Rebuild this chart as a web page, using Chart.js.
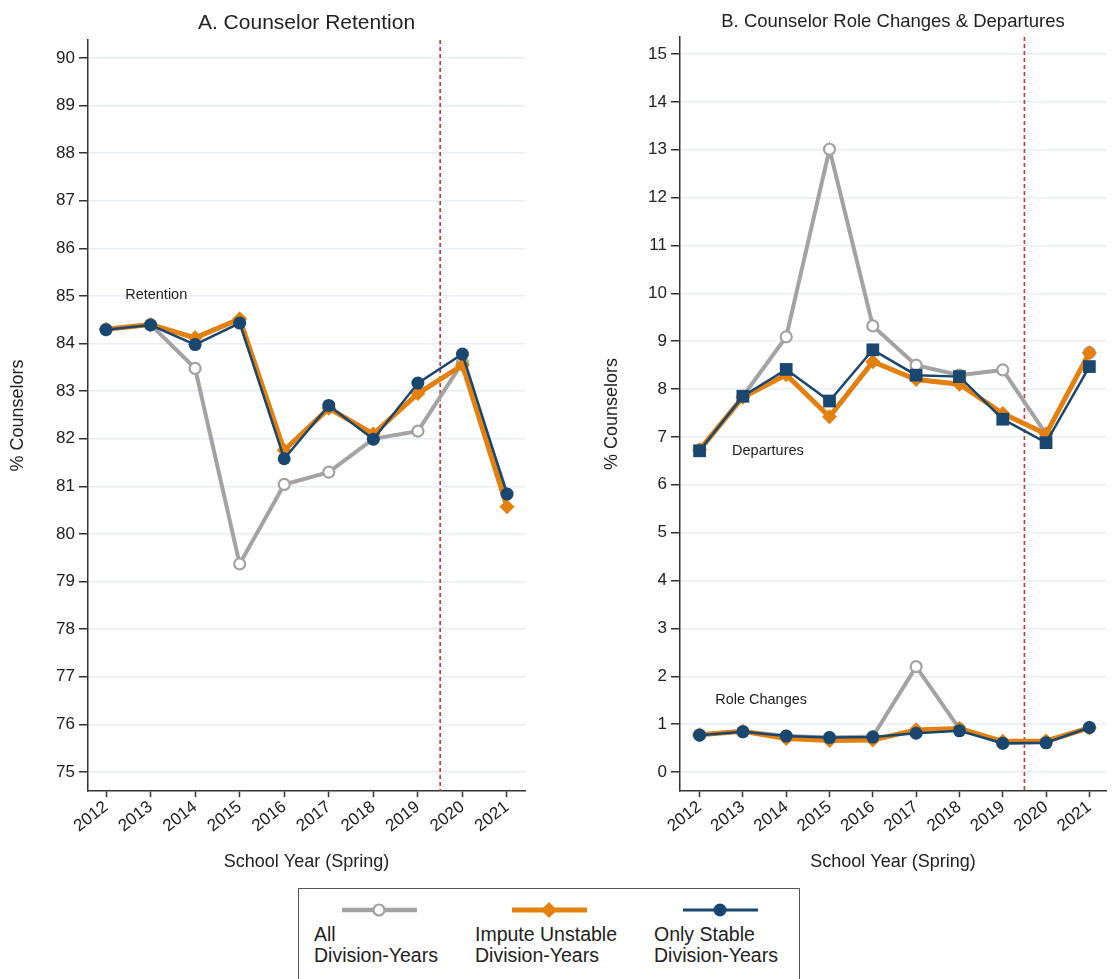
<!DOCTYPE html>
<html>
<head>
<meta charset="utf-8">
<script src="https://cdn.jsdelivr.net/npm/chart.js@4.4.1/dist/chart.umd.min.js"></script>
<style>
  html, body { margin: 0; padding: 0; background: #fff; }
  body { width: 1115px; height: 979px; position: relative; overflow: hidden;
         font-family: "Liberation Sans", Arial, sans-serif; }
  #panelA { position: absolute; left: 0; top: 0; }
  #panelB { position: absolute; left: 560px; top: 0; }
  .legend { position: absolute; left: 298px; top: 888px; width: 502px; height: 120px;
            border: 1.5px solid #555; box-sizing: border-box; }
  .legend svg { position: absolute; top: 11px; }
  .legend .lbl { position: absolute; top: 35px; font-size: 19.5px; line-height: 21px;
                 color: #222; white-space: nowrap; }
</style>
</head>
<body>
<canvas id="panelA" width="560" height="880"></canvas>
<canvas id="panelB" width="555" height="880"></canvas>

<div class="legend">
  <svg style="left:43px" width="75" height="20">
    <line x1="0" y1="10" x2="75" y2="10" stroke="#a3a3a3" stroke-width="4.5"/>
    <circle cx="37" cy="10" r="5.5" fill="#fff" stroke="#a3a3a3" stroke-width="2.2"/>
  </svg>
  <div class="lbl" style="left:15px">All<br>Division-Years</div>

  <svg style="left:213px" width="75" height="20">
    <line x1="0" y1="10" x2="75" y2="10" stroke="#e3800e" stroke-width="5"/>
    <polygon points="29,10 37,2 45,10 37,18" fill="#e3800e"/>
  </svg>
  <div class="lbl" style="left:176px">Impute Unstable<br>Division-Years</div>

  <svg style="left:384px" width="75" height="20">
    <line x1="0" y1="10" x2="75" y2="10" stroke="#1a476f" stroke-width="3"/>
    <circle cx="37" cy="10" r="6.5" fill="#1a476f"/>
  </svg>
  <div class="lbl" style="left:355px">Only Stable<br>Division-Years</div>
</div>

<script>
// school years (spring)
const years = [2012, 2013, 2014, 2015, 2016, 2017, 2018, 2019, 2020, 2021];
const cutoffYear = 2019.5;

// panel A: retention (%)
const retainAll    = [84.30, 84.40, 83.48, 79.37, 81.04, 81.30, 82.00, 82.16, 83.60, 80.84];
const retainImpute = [84.30, 84.40, 84.12, 84.52, 81.76, 82.64, 82.10, 82.95, 83.55, 80.57];
const retainStable = [84.29, 84.39, 83.98, 84.43, 81.58, 82.70, 81.99, 83.17, 83.78, 80.84];

// panel B: departures and role changes (%)
const departAll    = [6.73, 7.85, 9.09, 13.01, 9.32, 8.50, 8.29, 8.40, 7.06, 8.76];
const departImpute = [6.73, 7.83, 8.30, 7.42, 8.57, 8.20, 8.10, 7.49, 7.06, 8.76];
const departStable = [6.71, 7.85, 8.41, 7.75, 8.82, 8.29, 8.26, 7.37, 6.88, 8.47];
const roleAll      = [0.78, 0.85, 0.75, 0.72, 0.74, 2.20, 0.90, 0.60, 0.62, 0.93];
const roleImpute   = [0.78, 0.85, 0.70, 0.66, 0.67, 0.88, 0.91, 0.64, 0.65, 0.92];
const roleStable   = [0.77, 0.84, 0.75, 0.72, 0.73, 0.81, 0.86, 0.60, 0.61, 0.93];

const ticksA = [75, 76, 77, 78, 79, 80, 81, 82, 83, 84, 85, 86, 87, 88, 89, 90];
const ticksB = [0, 1, 2, 3, 4, 5, 6, 7, 8, 9, 10, 11, 12, 13, 14, 15];

const GRAY = '#a3a3a3';
const ORANGE = '#e3800e';
const NAVY = '#1a476f';
const INK = '#222';
const FONT = '"Liberation Sans", Arial, sans-serif';

Chart.defaults.font.family = FONT;
Chart.defaults.color = INK;

const pts = vals => vals.map((v, i) => ({ x: years[i], y: v }));

function allSeries(vals) {
    return {
        data: pts(vals), order: 3,
        borderColor: GRAY, borderWidth: 4,
        pointStyle: 'circle', pointRadius: 5.5, pointBorderWidth: 2.2,
        pointBackgroundColor: '#fff', pointBorderColor: GRAY
    };
}
function imputeSeries(vals) {
    return {
        data: pts(vals), order: 2,
        borderColor: ORANGE, borderWidth: 5,
        pointStyle: 'rectRot', pointRadius: 7.5, pointBorderWidth: 0,
        pointBackgroundColor: ORANGE, pointBorderColor: ORANGE
    };
}
function stableSeries(vals, style) {
    return {
        data: pts(vals), order: 1,
        borderColor: NAVY, borderWidth: 2.5,
        pointStyle: style, pointRadius: style === 'rect' ? 9 : 6.5, pointBorderWidth: 0,
        pointBackgroundColor: NAVY, pointBorderColor: NAVY
    };
}

// panel title over the plot area, dashed cutoff line, text notes
const panelExtras = {
    id: 'panelExtras',
    beforeDatasetsDraw(chart) {
        const { ctx, chartArea, scales } = chart;
        const x = scales.x.getPixelForValue(cutoffYear);
        ctx.save();
        ctx.strokeStyle = '#c0393b';
        ctx.lineWidth = 1.6;
        ctx.setLineDash([4, 3]);
        ctx.beginPath();
        ctx.moveTo(x, chartArea.top);
        ctx.lineTo(x, chartArea.bottom);
        ctx.stroke();
        ctx.restore();
    },
    afterDraw(chart) {
        const opts = chart.options.plugins.panelExtras;
        const { ctx, chartArea, scales } = chart;
        ctx.save();
        ctx.fillStyle = INK;
        ctx.textBaseline = 'middle';

        ctx.font = opts.titleSize + 'px ' + FONT;
        ctx.textAlign = 'center';
        ctx.fillText(opts.title, (chartArea.left + chartArea.right) / 2, opts.titleY);

        ctx.font = '14.5px ' + FONT;
        ctx.textAlign = 'left';
        (opts.notes || []).forEach(n => {
            ctx.fillText(n.text, scales.x.getPixelForValue(n.x), scales.y.getPixelForValue(n.y));
        });
        ctx.restore();
    }
};

function makePanel(id, cfg) {
    return new Chart(document.getElementById(id), {
        type: 'line',
        data: { datasets: cfg.datasets },
        plugins: [panelExtras],
        options: {
            responsive: false,
            animation: false,
            layout: { padding: cfg.padding },
            plugins: {
                legend: { display: false },
                tooltip: { enabled: false },
                title: { display: false },
                panelExtras: {
                    title: cfg.title, titleSize: cfg.titleSize, titleY: cfg.titleY,
                    notes: cfg.notes
                }
            },
            scales: {
                x: {
                    type: 'linear', min: cfg.xMin, max: cfg.xMax,
                    afterBuildTicks: s => { s.ticks = years.map(v => ({ value: v })); },
                    afterFit: s => { s.height = 89; s.paddingLeft = 0; s.paddingRight = 0; },
                    ticks: {
                        font: { size: 17 }, color: INK, padding: 0,
                        minRotation: 38, maxRotation: 38,
                        callback: v => String(v)
                    },
                    grid: { drawOnChartArea: false, tickLength: 6, tickColor: '#333', tickWidth: 1.5 },
                    border: { color: '#333', width: 1.5 },
                    title: {
                        display: true, text: 'School Year (Spring)', color: INK,
                        font: { size: 18 }, padding: { top: 0, bottom: 7 }
                    }
                },
                y: {
                    min: cfg.yMin, max: cfg.yMax,
                    afterBuildTicks: s => { s.ticks = cfg.yTicks.map(v => ({ value: v })); },
                    afterFit: s => { s.width = cfg.yWidth; s.paddingTop = 0; s.paddingBottom = 0; },
                    ticks: { font: { size: 17 }, color: INK, padding: 4 },
                    grid: { color: '#e8eef4', lineWidth: 1.5, tickLength: 9, tickColor: '#333', tickWidth: 1.5 },
                    border: { color: '#333', width: 1.5 },
                    title: {
                        display: true, text: '% Counselors', color: INK,
                        font: { size: 18 }, padding: { top: 7, bottom: 0 }
                    }
                }
            }
        }
    });
}

makePanel('panelA', {
    title: 'A. Counselor Retention',
    titleSize: 21,
    titleY: 23,
    padding: { left: 0, right: 35, top: 40, bottom: 0 },
    yWidth: 88,
    xMin: 2011.596, xMax: 2021.404,
    yMin: 74.60, yMax: 90.378,
    yTicks: ticksA,
    notes: [{ text: 'Retention', x: 2012.43, y: 85.02 }],
    datasets: [
        allSeries(retainAll),
        imputeSeries(retainImpute),
        stableSeries(retainStable, 'circle')
    ]
});

makePanel('panelB', {
    title: 'B. Counselor Role Changes & Departures',
    titleSize: 18.5,
    titleY: 22,
    padding: { left: 34, right: 0, top: 37, bottom: 0 },
    yWidth: 86,
    xMin: 2011.548, xMax: 2021.384,
    yMin: -0.397, yMax: 15.355,
    yTicks: ticksB,
    notes: [
        { text: 'Departures', x: 2012.75, y: 6.71 },
        { text: 'Role Changes', x: 2012.36, y: 1.5 }
    ],
    datasets: [
        allSeries(departAll),
        imputeSeries(departImpute),
        stableSeries(departStable, 'rect'),
        allSeries(roleAll),
        imputeSeries(roleImpute),
        stableSeries(roleStable, 'circle')
    ]
});
</script>
</body>
</html>
